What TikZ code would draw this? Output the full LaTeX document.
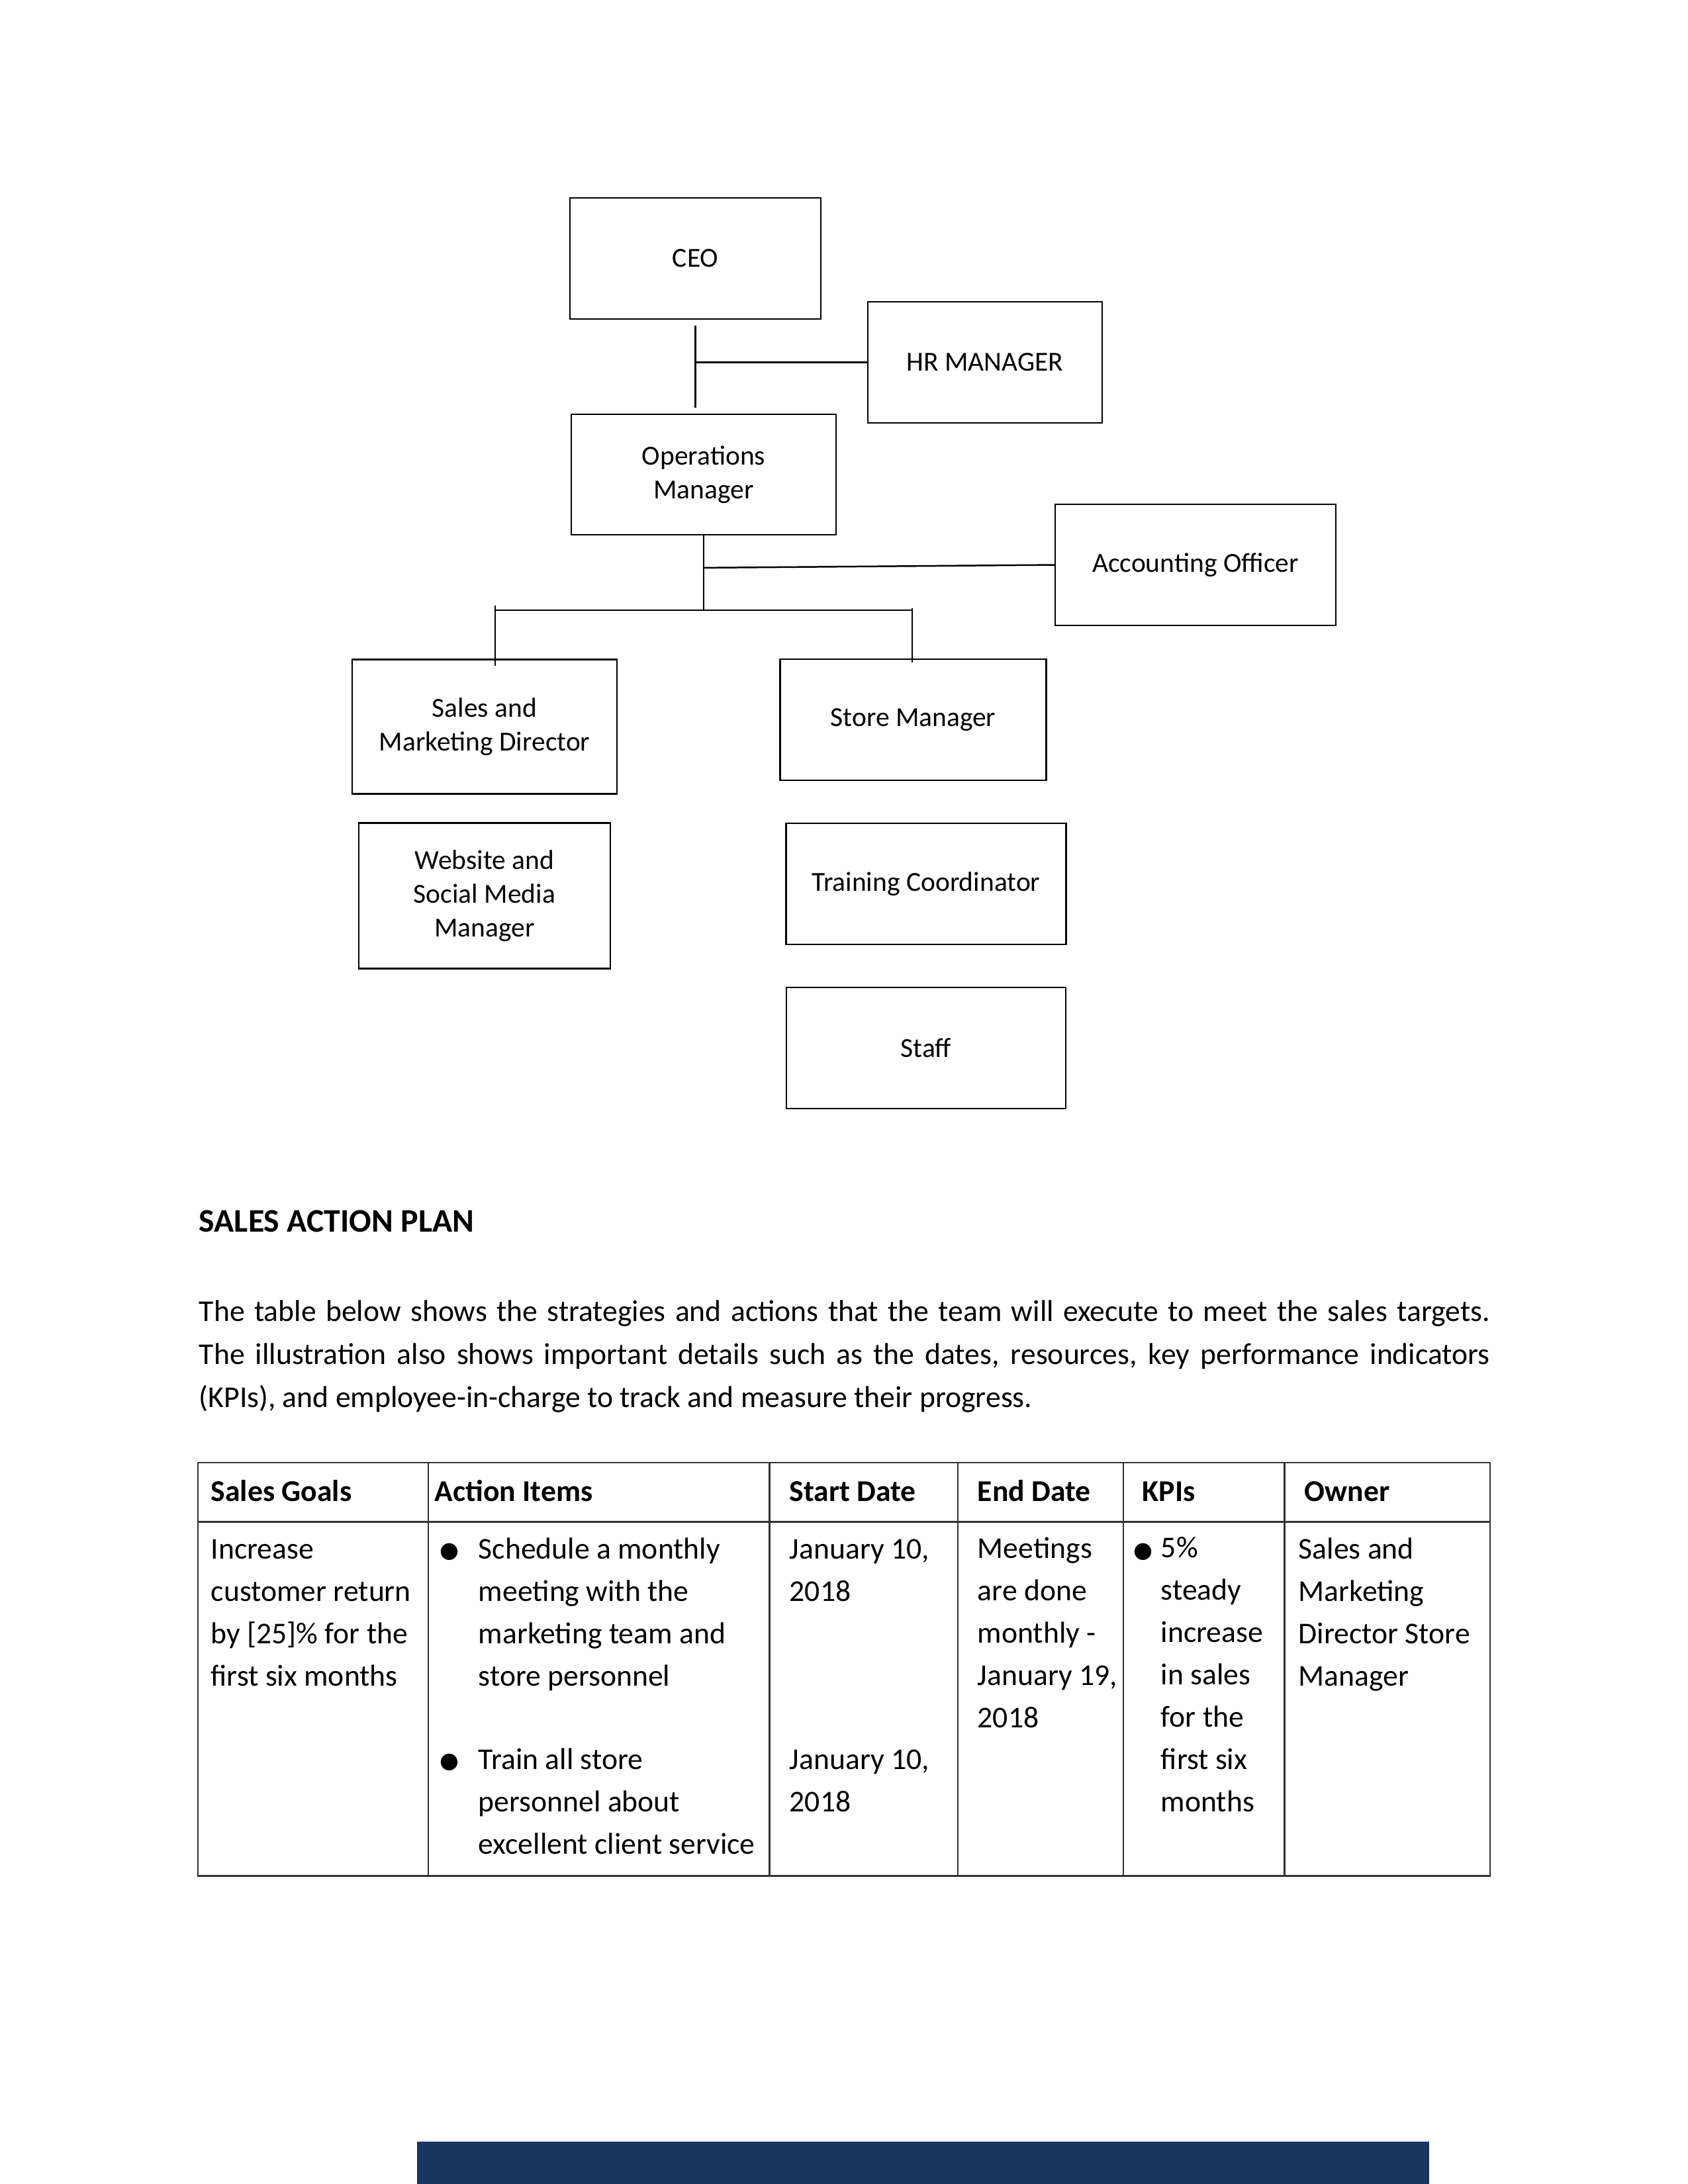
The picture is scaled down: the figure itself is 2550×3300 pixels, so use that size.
\documentclass[tikz,border=0pt]{standalone}
\usepackage{fontspec}
\setmainfont{Carlito}
\newfontfamily\dejavu{DejaVu Sans}
\usetikzlibrary{positioning, calc}
\definecolor{footerblue}{RGB}{24,54,94}
\definecolor{rulegray}{RGB}{50,50,50}

\begin{document}
\begin{tikzpicture}[x=0.2409pt, y=-0.2409pt,
    orgbox/.style={draw, line width=0.6pt, inner sep=0pt, outer sep=0pt, align=center,
      font=\fontsize{10}{12.2}\selectfont},
    link/.style={line width=0.6pt},
    rule/.style={line width=0.6pt, rulegray},
    cell/.style={anchor=base west, inner sep=0pt, align=left, font=\fontsize{11}{15.42}\selectfont},
    headcell/.style={cell, font=\fontsize{11}{15.42}\selectfont\bfseries},
    dot/.style={anchor=base, inner sep=0pt, font=\dejavu\fontsize{8}{8}\selectfont}]
  \useasboundingbox (0,0) rectangle (2550,3300);

  % Org chart boxes
  \node[orgbox, minimum width=91.3pt, minimum height=44.1pt] (ceo) at (1050.5,390.5) {CEO};
  \node[orgbox, minimum width=85.3pt, minimum height=44.1pt] (hr) at (1488,547.5) {HR MANAGER};
  \node[orgbox, minimum width=96.4pt, minimum height=43.8pt] (ops) at (1063,717) {Operations\\Manager};
  \node[orgbox, minimum width=102.1pt, minimum height=44.1pt] (acct) at (1806,853.5) {Accounting Officer};
  \node[orgbox, minimum width=96.4pt, minimum height=48.9pt] (smd) at (732,1098) {Sales and\\Marketing Director};
  \node[orgbox, minimum width=96.8pt, minimum height=44.1pt] (store) at (1379.5,1087.5) {Store Manager};
  \node[orgbox, minimum width=91.5pt, minimum height=53pt] (web) at (732,1353.7) {Website and\\Social Media\\Manager};
  \node[orgbox, minimum width=101.9pt, minimum height=44.1pt] (train) at (1399,1335.4) {Training Coordinator};
  \node[orgbox, minimum width=101.7pt, minimum height=44.1pt] (staff) at (1399,1583.5) {Staff};

  % Connectors
  \coordinate (ceoStem) at ($(ceo.south)+(0,10)$);
  \coordinate (ceoEnd) at ($(ceo.south)+(0,134)$);
  \draw[link] (ceoStem) -- (ceoEnd);
  \draw[link] (ceoStem |- hr.west) -- (hr.west);
  \coordinate (split) at ($(ops.south)+(0,114)$);
  \draw[link] (ops.south) -- (split);
  \draw[link] ($(ops.south)+(0,50)$) -- (acct.west);
  \coordinate (barL) at (748,922);
  \coordinate (barR) at (1378,922);
  \draw[link] (barL) -- (barR);
  \draw[link] ($(barL)+(0,-7)$) -- ($(smd.north -| barL)+(0,9)$);
  \draw[link] ($(barR)+(0,-3)$) -- ($(store.north -| barR)+(0,5)$);

  % Heading and text
  \node[anchor=base west, inner sep=0pt, font=\fontsize{12}{14}\selectfont\bfseries] (title) at (300,1861) {SALES ACTION PLAN};
  \node[cell] (para1) at (300,1996) {\makebox[469.8pt][s]{The table below shows the strategies and actions that the team will execute to meet the sales targets.}};
  \node[cell] (para2) at (300,2061) {\makebox[469.8pt][s]{The illustration also shows important details such as the dates, resources, key performance indicators}};
  \node[cell] (para3) at (300,2126) {(KPIs), and employee-in-charge to track and measure their progress.};

  % Table rules
  \draw[rule] (299,2210) rectangle (2251,2834.5);
  \draw[rule] (299,2299.6) -- (2251,2299.6);
  \foreach \cx in {647,1162.6,1447,1697,1940.7}
    \draw[rule] (\cx,2210) -- (\cx,2834.5);

  % Table header
  \node[headcell] (hgoal) at (318,2268) {Sales Goals};
  \node[headcell] (hact) at (656,2268) {Action Items};
  \node[headcell] (hstart) at (1192,2268) {Start Date};
  \node[headcell] (hend) at (1476,2268) {End Date};
  \node[headcell] (hkpi) at (1725,2268) {KPIs};
  \node[headcell] (howner) at (1970,2268) {Owner};

  % Table body (placed at the baseline of each cell's last line)
  \node[cell] (goal) at (318,2547) {Increase\\customer return\\by [25]\% for the\\first six months};
  \node[dot] (b1) at (679,2353) {●};
  \node[cell] (act1) at (722,2547) {Schedule a monthly\\meeting with the\\marketing team and\\store personnel};
  \node[dot] (b2) at (679,2671) {●};
  \node[cell] (act2) at (722,2801.4) {Train all store\\personnel about\\excellent client service};
  \node[cell] (start1) at (1192,2419.8) {January 10,\\2018};
  \node[cell] (start2) at (1192,2737.8) {January 10,\\2018};
  \node[cell] (end) at (1476,2610.6) {Meetings\\are done\\monthly -\\January 19,\\2018};
  \node[dot] (b3) at (1727,2353) {●};
  \node[cell] (kpi) at (1753,2737.8) {5\%\\steady\\increase\\in sales\\for the\\first six\\months};
  \node[cell] (owner) at (1961,2547) {Sales and\\Marketing\\Director Store\\Manager};

  % Footer bar
  \fill[footerblue] (630,3236) rectangle (2159,3300);
\end{tikzpicture}
\end{document}
